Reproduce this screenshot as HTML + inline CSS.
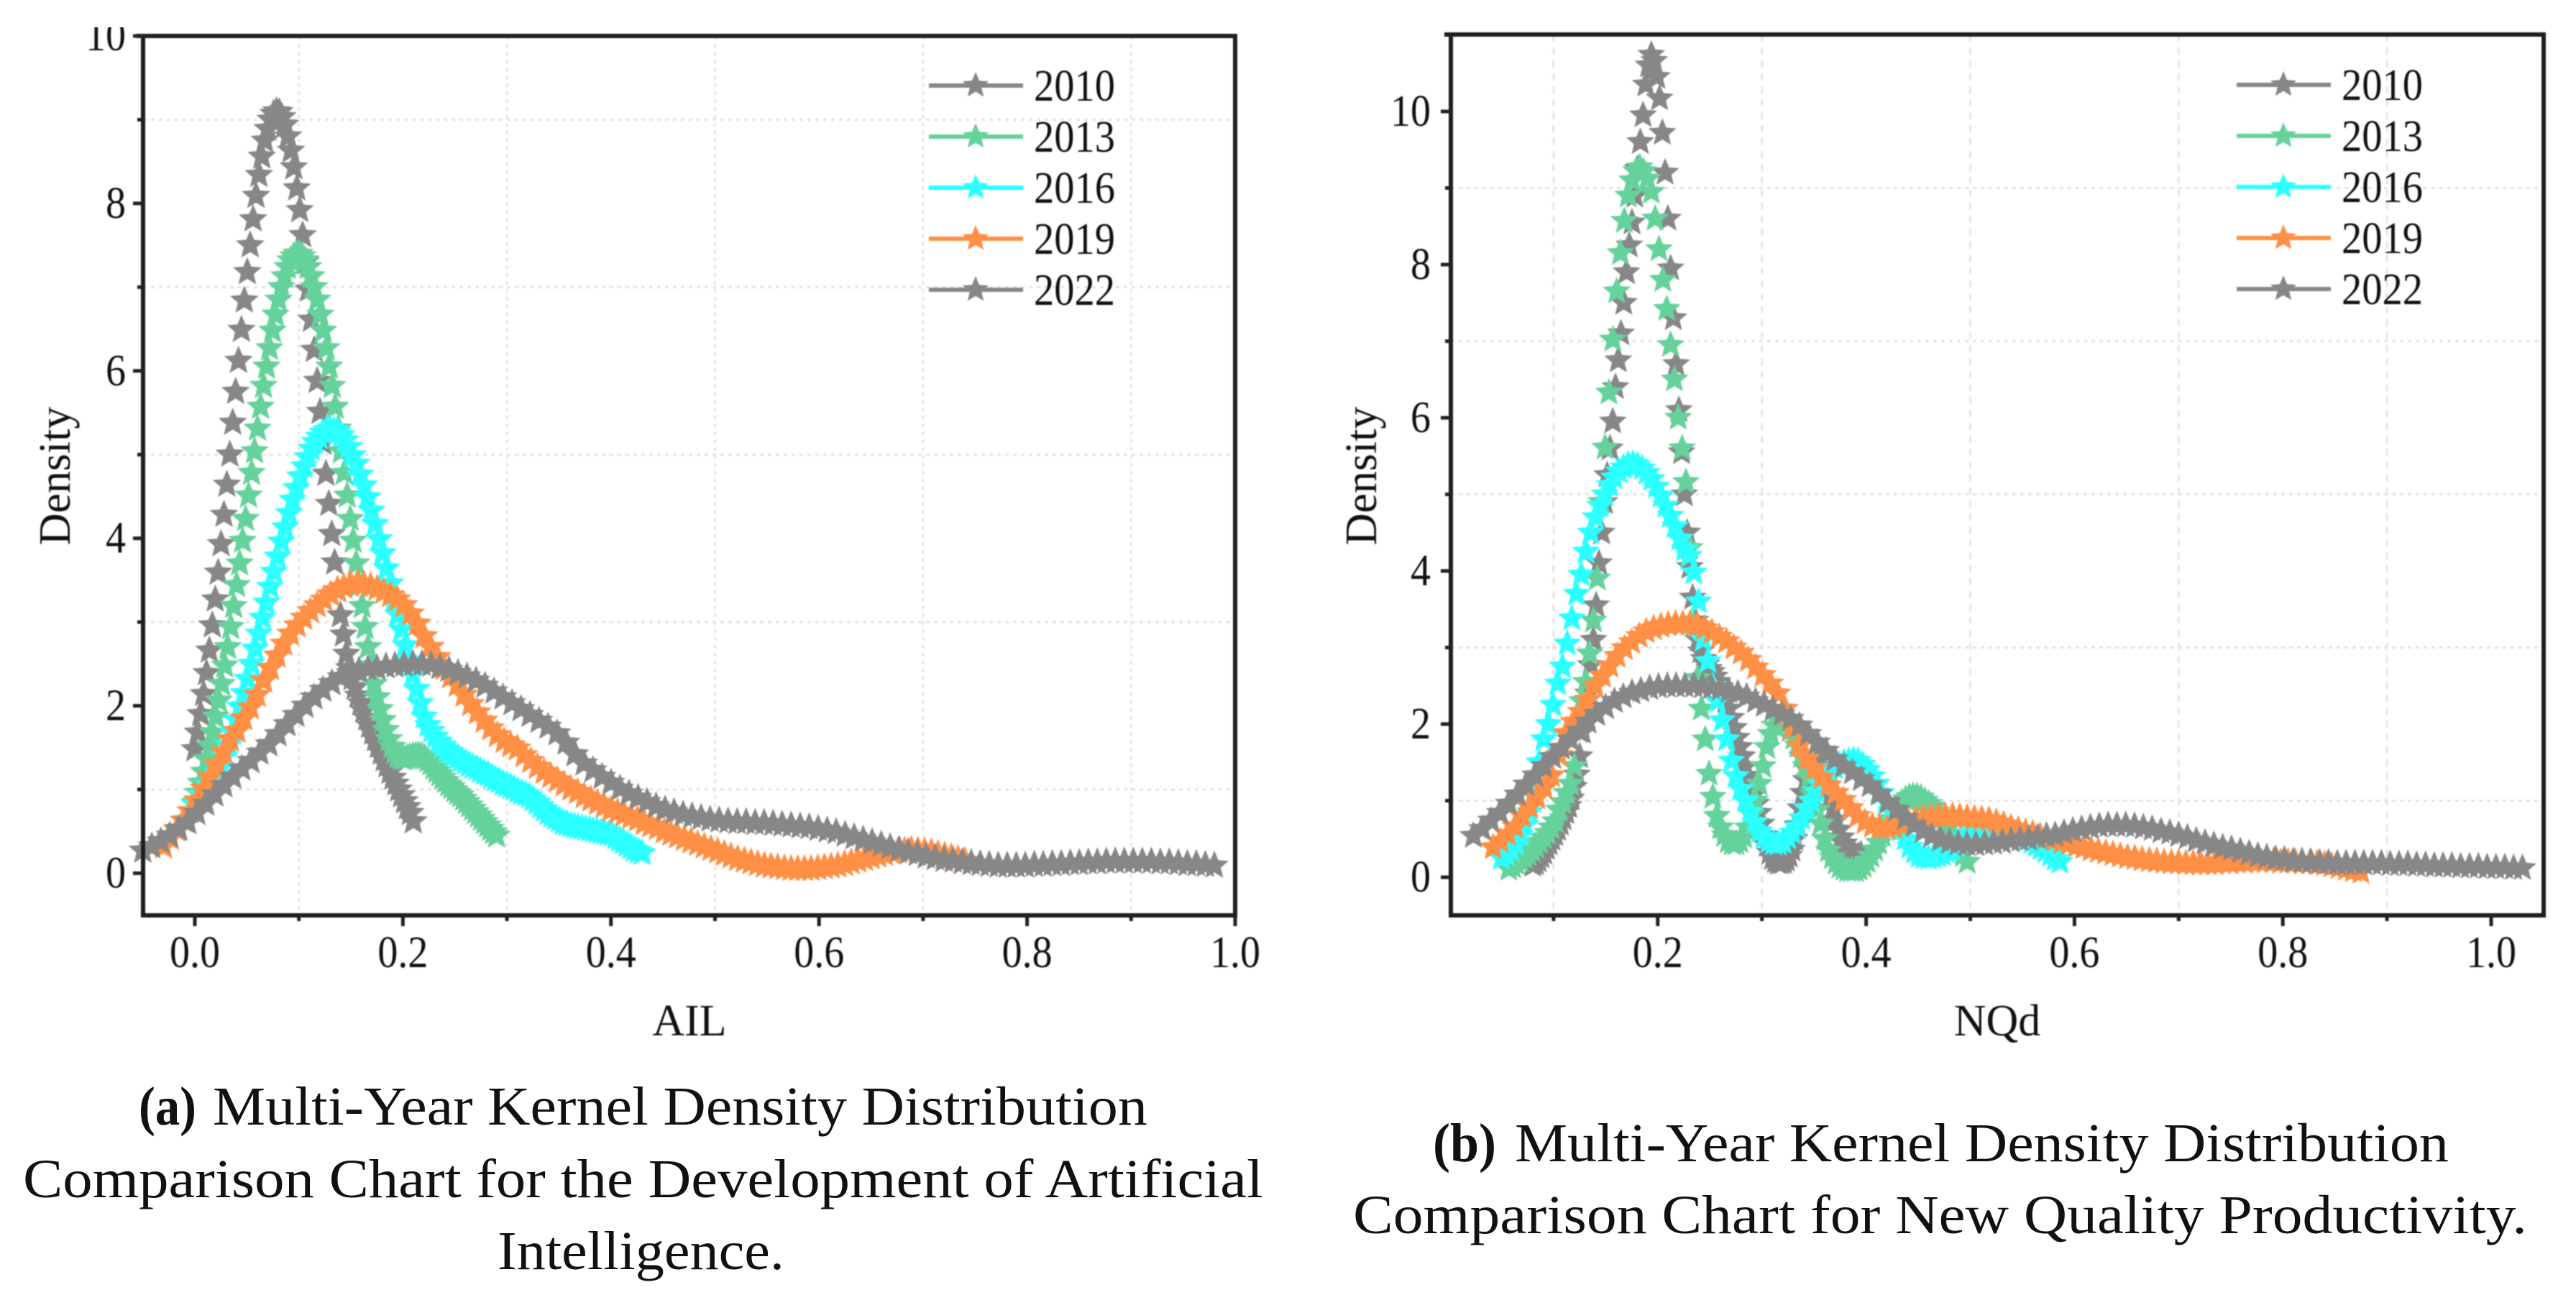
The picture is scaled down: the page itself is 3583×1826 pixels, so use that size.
<!DOCTYPE html>
<html lang="en">
<head>
<meta charset="utf-8">
<title>Multi-Year Kernel Density Distribution Comparison Charts</title>
<style>
html,body{margin:0;padding:0;background:#fff;}
svg{display:block;}
text{font-family:"Liberation Serif",serif;fill:#111;}
</style>
</head>
<body>
<svg id="figure" xmlns="http://www.w3.org/2000/svg" width="3583" height="1826" viewBox="0 0 3583 1826">
  <rect width="3583" height="1826" fill="#fff"/>
  <defs><clipPath id="clipA"><rect x="0" y="38" width="1790" height="1788"/></clipPath></defs>
  <g id="panelA" clip-path="url(#clipA)" style="filter:blur(0.9px)"></g>
  <g id="panelB" style="filter:blur(0.9px)"></g>

  <g font-size="76">
    <text x="193" y="1564" font-weight="bold" textLength="80" lengthAdjust="spacingAndGlyphs">(a)</text>
    <text x="296" y="1564" textLength="1300" lengthAdjust="spacingAndGlyphs">Multi-Year Kernel Density Distribution</text>
    <text x="32" y="1665" textLength="1725" lengthAdjust="spacingAndGlyphs">Comparison Chart for the Development of Artificial</text>
    <text x="692" y="1765" textLength="399" lengthAdjust="spacingAndGlyphs">Intelligence.</text>
  </g>
  <g font-size="76">
    <text x="1993" y="1615" font-weight="bold" textLength="88" lengthAdjust="spacingAndGlyphs">(b)</text>
    <text x="2107" y="1615" textLength="1299" lengthAdjust="spacingAndGlyphs">Multi-Year Kernel Density Distribution</text>
    <text x="1882" y="1715" textLength="1633" lengthAdjust="spacingAndGlyphs">Comparison Chart for New Quality Productivity.</text>
  </g>
</svg>
<script>
const years = ['2010','2013','2016','2019','2022'];
const yearColors = ['#888787','#66D29B','#2BFFFF','#FF8F45','#888787'];

const ailXTicks = ['0.0','0.2','0.4','0.6','0.8','1.0'];
const ailXMinor = [0.1,0.3,0.5,0.7,0.9];
const ailYTicks = ['0','2','4','6','8','10'];
const ailYMinor = [1,3,5,7,9];
const nqdXTicks = ['0.2','0.4','0.6','0.8','1.0'];
const nqdXMinor = [0.1,0.3,0.5,0.7,0.9];
const nqdYTicks = ['0','2','4','6','8','10'];
const nqdYMinor = [1,3,5,7,9];

const ailRange2010 = [0,0.21];
const ailDensity2010 = [1.48,1.68,1.90,2.14,2.39,2.66,2.96,3.27,3.59,3.93,4.28,4.64,5.00,5.38,5.75,6.12,6.49,6.84,7.18,7.50,7.81,8.09,8.34,8.56,8.75,8.89,9.00,9.07,9.10,9.09,9.03,8.94,8.80,8.63,8.43,8.18,7.92,7.62,7.30,6.97,6.61,6.25,5.88,5.51,5.14,4.77,4.41,4.05,3.71,3.38,3.08,2.85,2.62,2.45,2.33,2.22,2.12,2.03,1.94,1.85,1.76,1.68,1.60,1.52,1.44,1.36,1.29,1.21,1.14,1.07,1.00,.93,.86,.79,.72,.62];

const ailRange2013 = [0,0.29];
const ailDensity2013 = [.84,.96,1.08,1.21,1.36,1.52,1.68,1.87,2.06,2.26,2.48,2.70,2.94,3.19,3.44,3.70,3.97,4.23,4.51,4.78,5.04,5.31,5.57,5.82,6.05,6.27,6.48,6.67,6.85,7.00,7.13,7.24,7.32,7.37,7.40,7.40,7.37,7.32,7.24,7.13,7.00,6.85,6.67,6.48,6.27,6.05,5.82,5.57,5.31,5.04,4.78,4.51,4.23,3.97,3.70,3.44,3.19,2.94,2.70,2.48,2.26,2.10,1.96,1.83,1.71,1.60,1.51,1.45,1.40,1.38,1.37,1.38,1.39,1.40,1.41,1.41,1.40,1.38,1.35,1.31,1.26,1.22,1.18,1.14,1.10,1.06,1.03,.99,.96,.93,.89,.85,.81,.77,.73,.69,.65,.61,.57,.53,.49,.45];

const ailRange2016 = [0,0.43];
const ailDensity2016 = [.82,.87,.93,.99,1.05,1.11,1.19,1.27,1.40,1.53,1.68,1.83,1.99,2.15,2.32,2.50,2.68,2.86,3.05,3.23,3.42,3.60,3.78,3.96,4.13,4.30,4.46,4.60,4.74,4.86,4.97,5.07,5.15,5.21,5.26,5.29,5.30,5.29,5.27,5.23,5.17,5.09,4.99,4.89,4.76,4.63,4.49,4.33,4.17,3.99,3.82,3.64,3.46,3.27,3.09,2.91,2.72,2.54,2.37,2.20,2.03,1.87,1.77,1.70,1.63,1.57,1.52,1.47,1.44,1.41,1.38,1.35,1.32,1.29,1.27,1.25,1.22,1.20,1.18,1.15,1.12,1.10,1.07,1.05,1.03,1.01,.98,.96,.94,.92,.88,.84,.80,.76,.72,.69,.66,.63,.60,.59,.57,.56,.55,.54,.53,.52,.51,.50,.49,.48,.47,.46,.43,.40,.37,.34,.31,.28,.26,.24];

const ailRange2019 = [-0.03,0.74];
const ailDensity2019 = [.32,.42,.52,.63,.74,.87,1.01,1.15,1.30,1.45,1.60,1.70,1.85,1.98,2.13,2.30,2.45,2.60,2.74,2.86,2.96,3.05,3.13,3.20,3.27,3.33,3.38,3.42,3.45,3.46,3.45,3.43,3.40,3.36,3.32,3.27,3.20,3.10,2.98,2.83,2.70,2.58,2.45,2.35,2.25,2.13,2.02,1.92,1.82,1.73,1.65,1.58,1.53,1.49,1.41,1.34,1.27,1.21,1.16,1.11,1.06,1.01,.97,.92,.88,.84,.80,.76,.73,.70,.67,.64,.60,.57,.54,.50,.47,.44,.41,.38,.35,.32,.29,.26,.23,.20,.17,.15,.13,.11,.09,.08,.07,.06,.05,.05,.05,.05,.06,.07,.08,.09,.11,.13,.15,.17,.19,.21,.23,.25,.26,.27,.28,.27,.26,.25,.23,.21,.19,.17,.15];

const ailRange2022 = [-0.05,0.98];
const ailDensity2022 = [.27,.32,.38,.45,.53,.61,.72,.83,.94,1.05,1.15,1.25,1.34,1.44,1.54,1.66,1.78,1.89,2.00,2.10,2.19,2.27,2.34,2.39,2.42,2.44,2.45,2.47,2.48,2.49,2.50,2.50,2.49,2.46,2.43,2.39,2.35,2.30,2.24,2.17,2.10,2.03,1.96,1.89,1.82,1.75,1.67,1.56,1.42,1.31,1.23,1.15,1.08,1.01,.95,.90,.85,.80,.76,.73,.70,.68,.66,.64,.63,.62,.61,.61,.60,.60,.59,.58,.57,.56,.55,.53,.51,.49,.46,.43,.40,.37,.34,.31,.28,.25,.23,.20,.18,.16,.15,.13,.12,.11,.10,.09,.09,.09,.09,.10,.10,.11,.11,.12,.12,.13,.13,.14,.14,.14,.14,.14,.14,.13,.13,.12,.11,.11,.10,.09];

const nqdRange2010 = [0.08,0.395];
const nqdDensity2010 = [.16,.18,.22,.27,.32,.38,.44,.50,.56,.63,.70,.77,.85,.93,1.03,1.18,1.34,1.58,1.90,2.10,2.40,2.77,3.10,3.55,4.10,4.50,4.90,5.25,5.60,5.95,6.40,6.75,7.10,7.50,7.90,8.25,8.55,8.90,9.25,9.60,9.95,10.35,10.60,10.74,10.66,10.45,10.17,9.72,9.20,8.60,7.95,7.30,6.70,6.10,5.55,5.00,4.50,4.05,3.65,3.35,3.10,2.95,2.85,2.78,2.72,2.68,2.62,2.55,2.48,2.40,2.30,2.20,2.08,1.95,1.82,1.70,1.58,1.45,1.32,1.20,1.08,.96,.84,.70,.55,.42,.32,.25,.21,.19,.19,.20,.23,.28,.36,.50,.68,.90,1.10,1.27,1.40,1.48,1.52,1.53,1.50,1.45,1.35,1.20,1.05,.90,.75,.62,.52,.44,.38,.33,.30,.28,.28,.30];

const nqdRange2013 = [0.057,0.497];
const nqdDensity2013 = [.11,.14,.18,.22,.26,.30,.35,.40,.46,.52,.58,.65,.73,.88,.98,1.10,1.22,1.45,2.00,2.30,2.55,2.92,3.35,3.90,4.90,5.61,6.33,7.02,7.65,8.15,8.57,8.90,9.10,9.22,9.27,9.22,9.12,8.95,8.60,8.20,7.80,7.42,6.95,6.50,6.00,5.60,5.16,4.30,3.30,2.60,2.20,1.80,1.35,1.05,.80,.65,.55,.47,.44,.44,.47,.53,.65,.82,1.00,1.22,1.45,1.70,1.87,1.98,2.05,2.05,2.00,1.92,1.82,1.72,1.58,1.45,1.30,1.08,.88,.70,.50,.35,.26,.19,.14,.11,.09,.09,.09,.11,.15,.21,.28,.36,.45,.55,.66,.76,.85,.92,.98,1.02,1.05,1.06,1.06,1.04,1.00,.96,.92,.86,.80,.72,.64,.56,.47,.38,.29,.20];

const nqdRange2016 = [0.05,0.586];
const nqdDensity2016 = [.25,.30,.36,.44,.55,.68,.85,1.15,1.50,1.80,2.00,2.25,2.53,2.75,3.05,3.38,3.70,3.95,4.25,4.50,4.70,4.85,5.00,5.12,5.22,5.30,5.35,5.39,5.40,5.38,5.34,5.28,5.20,5.10,4.98,4.85,4.72,4.58,4.42,4.28,4.20,3.98,3.60,3.10,2.82,2.50,2.30,2.05,1.80,1.52,1.32,1.15,1.00,.85,.72,.60,.52,.47,.44,.44,.46,.52,.58,.66,.77,.90,1.00,1.12,1.22,1.30,1.37,1.43,1.47,1.50,1.52,1.53,1.52,1.47,1.40,1.32,1.22,1.10,.98,.86,.74,.62,.50,.40,.33,.28,.26,.25,.26,.28,.30,.33,.37,.42,.47,.52,.57,.60,.62,.63,.63,.62,.61,.60,.59,.58,.56,.53,.50,.46,.42,.38,.34,.29,.24,.20];

const nqdRange2019 = [0.042,0.875];
const nqdDensity2019 = [.39,.47,.56,.66,.80,.92,1.04,1.17,1.33,1.60,1.88,2.03,2.16,2.32,2.50,2.63,2.76,2.89,2.99,3.07,3.15,3.21,3.25,3.28,3.30,3.31,3.31,3.31,3.29,3.25,3.20,3.14,3.08,3.00,2.93,2.84,2.74,2.64,2.53,2.40,2.20,1.95,1.72,1.55,1.42,1.30,1.20,1.10,1.01,.90,.80,.72,.67,.65,.64,.65,.68,.72,.76,.78,.79,.80,.80,.80,.79,.78,.77,.76,.75,.72,.69,.65,.62,.59,.57,.54,.52,.49,.46,.44,.41,.39,.36,.34,.32,.30,.28,.26,.25,.23,.22,.21,.20,.19,.19,.18,.18,.18,.18,.18,.19,.19,.20,.20,.21,.21,.21,.21,.20,.20,.20,.19,.19,.18,.17,.15,.13,.11,.09,.07];

const nqdRange2022 = [0.023,1.03];
const nqdDensity2022 = [.54,.63,.74,.84,.96,1.08,1.21,1.33,1.45,1.57,1.69,1.80,1.91,2.03,2.13,2.22,2.30,2.36,2.41,2.44,2.47,2.49,2.50,2.50,2.50,2.50,2.49,2.48,2.46,2.43,2.40,2.36,2.30,2.25,2.19,2.13,2.07,1.98,1.87,1.76,1.65,1.54,1.45,1.37,1.28,1.20,1.09,.98,.88,.77,.68,.60,.54,.49,.46,.44,.43,.43,.44,.45,.46,.48,.49,.50,.52,.54,.55,.58,.61,.63,.65,.67,.68,.68,.68,.67,.65,.63,.60,.58,.55,.52,.48,.45,.42,.39,.37,.34,.31,.28,.26,.24,.23,.21,.21,.20,.19,.19,.18,.18,.18,.18,.18,.18,.17,.17,.17,.16,.16,.15,.15,.15,.14,.14,.14,.13,.13,.13,.12,.12];

const SVGNS = 'http://www.w3.org/2000/svg';

function make(parent, tag, attrs, content) {
  const el = document.createElementNS(SVGNS, tag);
  for (const k in attrs) el.setAttribute(k, attrs[k]);
  if (content !== undefined) el.textContent = content;
  parent.appendChild(el);
  return el;
}

function starPoints(cx, cy, r) {
  const pts = [];
  for (let k = 0; k < 10; k++) {
    const rad = k % 2 === 0 ? r : r * 0.45;
    const a = -Math.PI / 2 + k * Math.PI / 5;
    pts.push((cx + rad * Math.cos(a)).toFixed(1) + ',' + (cy + rad * Math.sin(a)).toFixed(1));
  }
  return pts.join(' ');
}

function drawPanel(root, cfg) {
  const sx = v => cfg.x0 + cfg.xUnit * v;
  const sy = v => cfg.y0 - cfg.yUnit * v;

  const grid = make(root, 'g', {});
  
  
  cfg.xMinor.forEach(v => {
    const line = make(grid, 'line', {x1: sx(v), x2: sx(v), y1: cfg.top, y2: cfg.bottom, stroke: '#e6e6e6', 'stroke-width': 3, 'stroke-dasharray': cfg.dashX});
    
    
  });
  cfg.yMinor.forEach(v => {
    const line = make(grid, 'line', {x1: cfg.left, x2: cfg.right, y1: sy(v), y2: sy(v), stroke: '#e2e2e2', 'stroke-width': 3, 'stroke-dasharray': '5 6'});
    
    
  });

  cfg.series.forEach((s, si) => {
    const group = make(root, 'g', {fill: yearColors[si]});
    
    
    const n = s.values.length;
    s.values.forEach((val, i) => {
      const xv = s.range[0] + (s.range[1] - s.range[0]) * i / (n - 1);
      const star = make(group, 'polygon', {points: starPoints(sx(xv), sy(val), cfg.starR)});
      
      
    });
  });

  const frame = make(root, 'g', {stroke: '#1e1e1e', fill: 'none', 'stroke-width': 6});
  
  
  make(frame, 'path', {d: 'M' + (cfg.left - 6) + ' ' + cfg.top + 'H' + cfg.right + 'V' + cfg.bottom + 'H' + cfg.left + 'V' + cfg.top, 'stroke-linecap': 'square'});

  const xAxis = make(root, 'g', {});
  
  
  cfg.xTicks.forEach(lab => {
    const v = parseFloat(lab);
    const tick = make(xAxis, 'line', {x1: sx(v), x2: sx(v), y1: cfg.bottom, y2: cfg.bottom + 15, stroke: '#222', 'stroke-width': 5});
    
    
    const txt = make(xAxis, 'text', {x: sx(v), y: 1345, 'font-size': 62, 'text-anchor': 'middle', textLength: 70, lengthAdjust: 'spacingAndGlyphs'}, lab);
    
    
  });
  cfg.xMinor.forEach(v => {
    const tick = make(xAxis, 'line', {x1: sx(v), x2: sx(v), y1: cfg.bottom, y2: cfg.bottom + 8, stroke: '#222', 'stroke-width': 5});
    
    
  });

  const yAxis = make(root, 'g', {});
  
  
  cfg.yTicks.forEach(lab => {
    const v = parseFloat(lab);
    const tick = make(yAxis, 'line', {x1: cfg.left - 14, x2: cfg.left, y1: sy(v), y2: sy(v), stroke: '#222', 'stroke-width': 5});
    
    
    const txt = make(yAxis, 'text', {x: cfg.left - cfg.labelGap, y: sy(v) + 20, 'font-size': 62, 'text-anchor': 'end', textLength: lab.length * 28, lengthAdjust: 'spacingAndGlyphs'}, lab);
    
    
  });
  cfg.yMinor.forEach(v => {
    const tick = make(yAxis, 'line', {x1: cfg.left - 8, x2: cfg.left, y1: sy(v), y2: sy(v), stroke: '#222', 'stroke-width': 5});
    
    
  });

  const yTitle = make(root, 'text', {transform: 'translate(' + cfg.yTitleX + ',662) rotate(-90)', 'font-size': 62, 'text-anchor': 'middle'}, 'Density');
  
  
  const xTitle = make(root, 'text', {x: cfg.xTitleX, y: 1440, 'font-size': 62, 'text-anchor': 'middle'}, cfg.xTitle);
  
  

  const legend = make(root, 'g', {});
  
  
  years.forEach((yr, i) => {
    const ly = cfg.legendY + i * 71;
    const entry = make(legend, 'g', {});
    
    
    make(entry, 'line', {x1: cfg.legendX, x2: cfg.legendX + 131, y1: ly, y2: ly, stroke: yearColors[i], 'stroke-width': 6});
    make(entry, 'polygon', {points: starPoints(cfg.legendX + 65, ly, 19), fill: yearColors[i]});
    make(entry, 'text', {x: cfg.legendX + 146, y: ly + 21, 'font-size': 62, textLength: 113, lengthAdjust: 'spacingAndGlyphs'}, yr);
  });
}

drawPanel(document.getElementById('panelA'), {
  x0: 271, xUnit: 1447, y0: 1214.4, yUnit: 116.44,
  left: 199, right: 1718, top: 50, bottom: 1273,
  starR: 21, labelGap: 24, yTitleX: 97, xTitleX: 959, xTitle: 'AIL',
  legendX: 1292, legendY: 119, dashX: '5 6',
  xTicks: ailXTicks, xMinor: ailXMinor, yTicks: ailYTicks, yMinor: ailYMinor,
  series: [
    {range: ailRange2010, values: ailDensity2010},
    {range: ailRange2013, values: ailDensity2013},
    {range: ailRange2016, values: ailDensity2016},
    {range: ailRange2019, values: ailDensity2019},
    {range: ailRange2022, values: ailDensity2022}
  ]
});

drawPanel(document.getElementById('panelB'), {
  x0: 2016, xUnit: 1449, y0: 1220, yUnit: 106.5,
  left: 2018, right: 3538, top: 48, bottom: 1273,
  starR: 20.5, labelGap: 28, yTitleX: 1914, xTitleX: 2778, xTitle: 'NQd',
  legendX: 3111, legendY: 118, dashX: '10 8',
  xTicks: nqdXTicks, xMinor: nqdXMinor, yTicks: nqdYTicks, yMinor: nqdYMinor,
  series: [
    {range: nqdRange2010, values: nqdDensity2010},
    {range: nqdRange2013, values: nqdDensity2013},
    {range: nqdRange2016, values: nqdDensity2016},
    {range: nqdRange2019, values: nqdDensity2019},
    {range: nqdRange2022, values: nqdDensity2022}
  ]
});
</script>
</body>
</html>
